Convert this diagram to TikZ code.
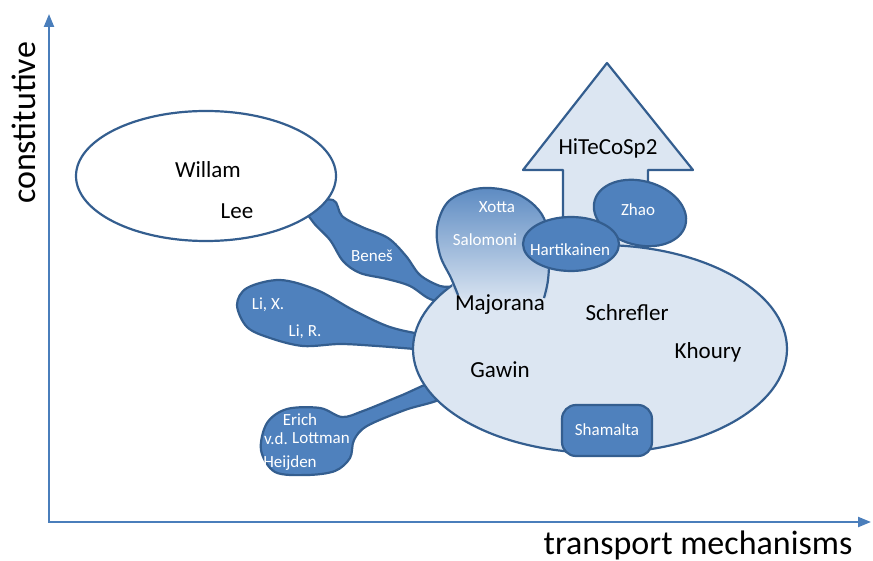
\documentclass[tikz,border=0pt]{standalone}
\usepackage{fontspec}
\setmainfont{Carlito}
\usetikzlibrary{arrows.meta}
\definecolor{axisblue}{HTML}{4A7EBB}
\definecolor{blobfill}{HTML}{4F81BD}
\definecolor{edgeblue}{HTML}{345E8F}
\definecolor{lightfill}{HTML}{DCE6F2}
\begin{document}
\begin{tikzpicture}[x=1pt,y=-1pt,
  edge/.style={draw=edgeblue, line width=2.2pt, line join=round},
  blob/.style={edge, fill=blobfill},
  lbl/.style={font=\fontsize{23}{27}\selectfont, text=black, inner sep=0pt},
  wlbl/.style={font=\fontsize{17}{20}\selectfont, text=white, inner sep=0pt},
  axlbl/.style={font=\fontsize{34}{40}\selectfont, inner sep=0pt},
  axisline/.style={draw=axisblue, line width=2.2pt, {Triangle[length=13pt,width=10pt]}-{Triangle[length=13pt,width=10pt]}}]
\useasboundingbox (0,0) rectangle (873,561);

% axes
\coordinate (o) at (49,522);
\coordinate (ytip) at (49,14);
\coordinate (xtip) at (871,522);
\draw[axisline] (ytip) -- (o) -- (xtip);
\node[axlbl, rotate=90, anchor=base] (ylab) at (35,123) {constitutive};
\node[axlbl, anchor=base] (xlab) at (698,554) {transport mechanisms};

% tentacles
\draw[blob] plot[smooth cycle, tension=0.55] coordinates {(305,205) (333,200) (342,216) (362,227) (388,238) (406,256) (420,275) (440,286) (456,288) (452,303) (430,299) (410,286) (387,279) (360,273) (343,261) (330,240) (313,222)};
\draw[blob] plot[smooth cycle, tension=0.55] coordinates {(237,305) (247,288) (280,280) (317,290) (353,310) (387,326) (415,333) (432,334) (432,350) (415,349) (377,346) (340,344) (303,346) (270,338) (247,327)};
\draw[blob] plot[smooth cycle, tension=0.55] coordinates {(267,423) (287,409) (320,408) (342,417) (363,411) (400,396) (440,380) (442,398) (405,410) (367,426) (354,440) (350,458) (335,471) (307,475) (275,472) (261,450)};

% white ellipse
\draw[edge, fill=white] (206,176) ellipse [x radius=130pt, y radius=65pt];

% arrow
\draw[edge, fill=lightfill] (563,262) -- (563,170) -- (523,170) -- (607,63) -- (693,170) -- (648,170) -- (648,262) -- cycle;

% big ellipse
\draw[edge, fill=lightfill] (600,349) ellipse [x radius=187pt, y radius=104pt];

% Xotta / Salomoni blob with gradient
\shade[top color=blobfill!92!white, middle color=blobfill!55!lightfill, bottom color=lightfill]
  plot[smooth cycle, tension=0.6] coordinates {(458,296) (451,278) (440,255) (437,228) (447,203) (468,191) (490,188) (515,193) (535,206) (546,224) (549,255) (548,280) (544,299) (500,304)};
\draw[edge] plot[smooth, tension=0.6] coordinates {(458,295) (451,278) (440,255) (437,228) (447,203) (468,191) (490,188) (515,193) (535,206) (546,224) (549,255) (548,280) (544,298)};

% small blobs
\draw[blob, rotate around={-15:(640,213)}] (640,213) ellipse [x radius=47pt, y radius=32pt];
\draw[blob] (571,244) ellipse [x radius=48pt, y radius=27pt];
\draw[blob, rounded corners=14pt] (562,405) rectangle (652,456);

% labels
\node[lbl] (willam) at (208,170) {Willam};
\node[lbl] (lee) at (237,211) {Lee};
\node[lbl] (hitecosp) at (608,148) {HiTeCoSp2};
\node[lbl] (majorana) at (500,305) {Majorana};
\node[lbl] (schrefler) at (627,313) {Schrefler};
\node[lbl] (khoury) at (708,352) {Khoury};
\node[lbl] (gawin) at (500,370) {Gawin};

\node[wlbl] (xotta) at (497,207) {Xotta};
\node[wlbl] (salomoni) at (485,240) {Salomoni};
\node[wlbl] (hartikainen) at (570,250) {Hartikainen};
\node[wlbl] (zhao) at (638,210) {Zhao};
\node[wlbl] (shamalta) at (607,430) {Shamalta};
\node[wlbl] (benes) at (372,256) {Beneš};
\node[wlbl] (lix) at (268,305) {Li, X.};
\node[wlbl] (lir) at (305,332) {Li, R.};
\node[wlbl] (erich) at (300,420) {Erich};
\node[wlbl] (vd) at (276,439) {v.d.};
\node[wlbl] (lottman) at (321,438) {Lottman};
\node[wlbl] (heijden) at (290,463) {Heijden};
\end{tikzpicture}
\end{document}
